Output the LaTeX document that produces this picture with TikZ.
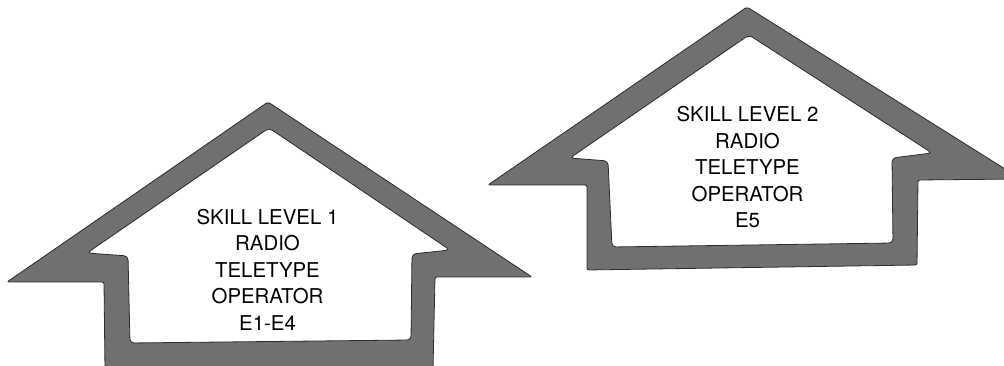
\documentclass[tikz,border=0pt]{standalone}
\usepackage{fontspec}
\setmainfont{TeX Gyre Heros}
\definecolor{roofgray}{RGB}{112,112,112}
\definecolor{edgegray}{RGB}{45,45,45}
\tikzset{
  housebody/.style={fill=roofgray, draw=edgegray, line width=0.6pt, even odd rule, line join=miter},
  houselabel/.style={align=center, inner sep=0pt, font=\fontsize{15.3}{19.9}\selectfont, text=black}
}
\begin{document}
\begin{tikzpicture}[x=0.75pt, y=-0.75pt]
\useasboundingbox (0,0) rectangle (1004,366);
\clip (0,0) rectangle (1004,366);
\fill[white] (0,0) rectangle (1004,366);
% left house
\path[housebody]
  [rounded corners=1.5pt] (7,282) -- (268,102) -- (532,277) -- (435,277) -- (433,370) -- (105,370) -- (104,282) -- cycle
  [rounded corners=3pt] (87,253) -- (128,256) -- (130,343) -- (411,340) -- (412,254) -- (450,250) -- (269,128) -- cycle;
% right house
\path[housebody]
  [rounded corners=1.5pt] (488,185) -- (747,7) -- (1021,179) -- (918,180) -- (917,265) -- (587,270) -- (587,185) -- cycle
  [rounded corners=3pt] (570,158) -- (608,161) -- (612,247) -- (893,243) -- (892,158) -- (932,153) -- (749,35) -- cycle;
\node[houselabel] (lvlone) at (267.5,269.6) {SKILL LEVEL 1\\RADIO\\TELETYPE\\OPERATOR\\E1-E4};
\node[houselabel] (lvltwo) at (747.5,167.2) {SKILL LEVEL 2\\RADIO\\TELETYPE\\OPERATOR\\E5};
\end{tikzpicture}
\end{document}
